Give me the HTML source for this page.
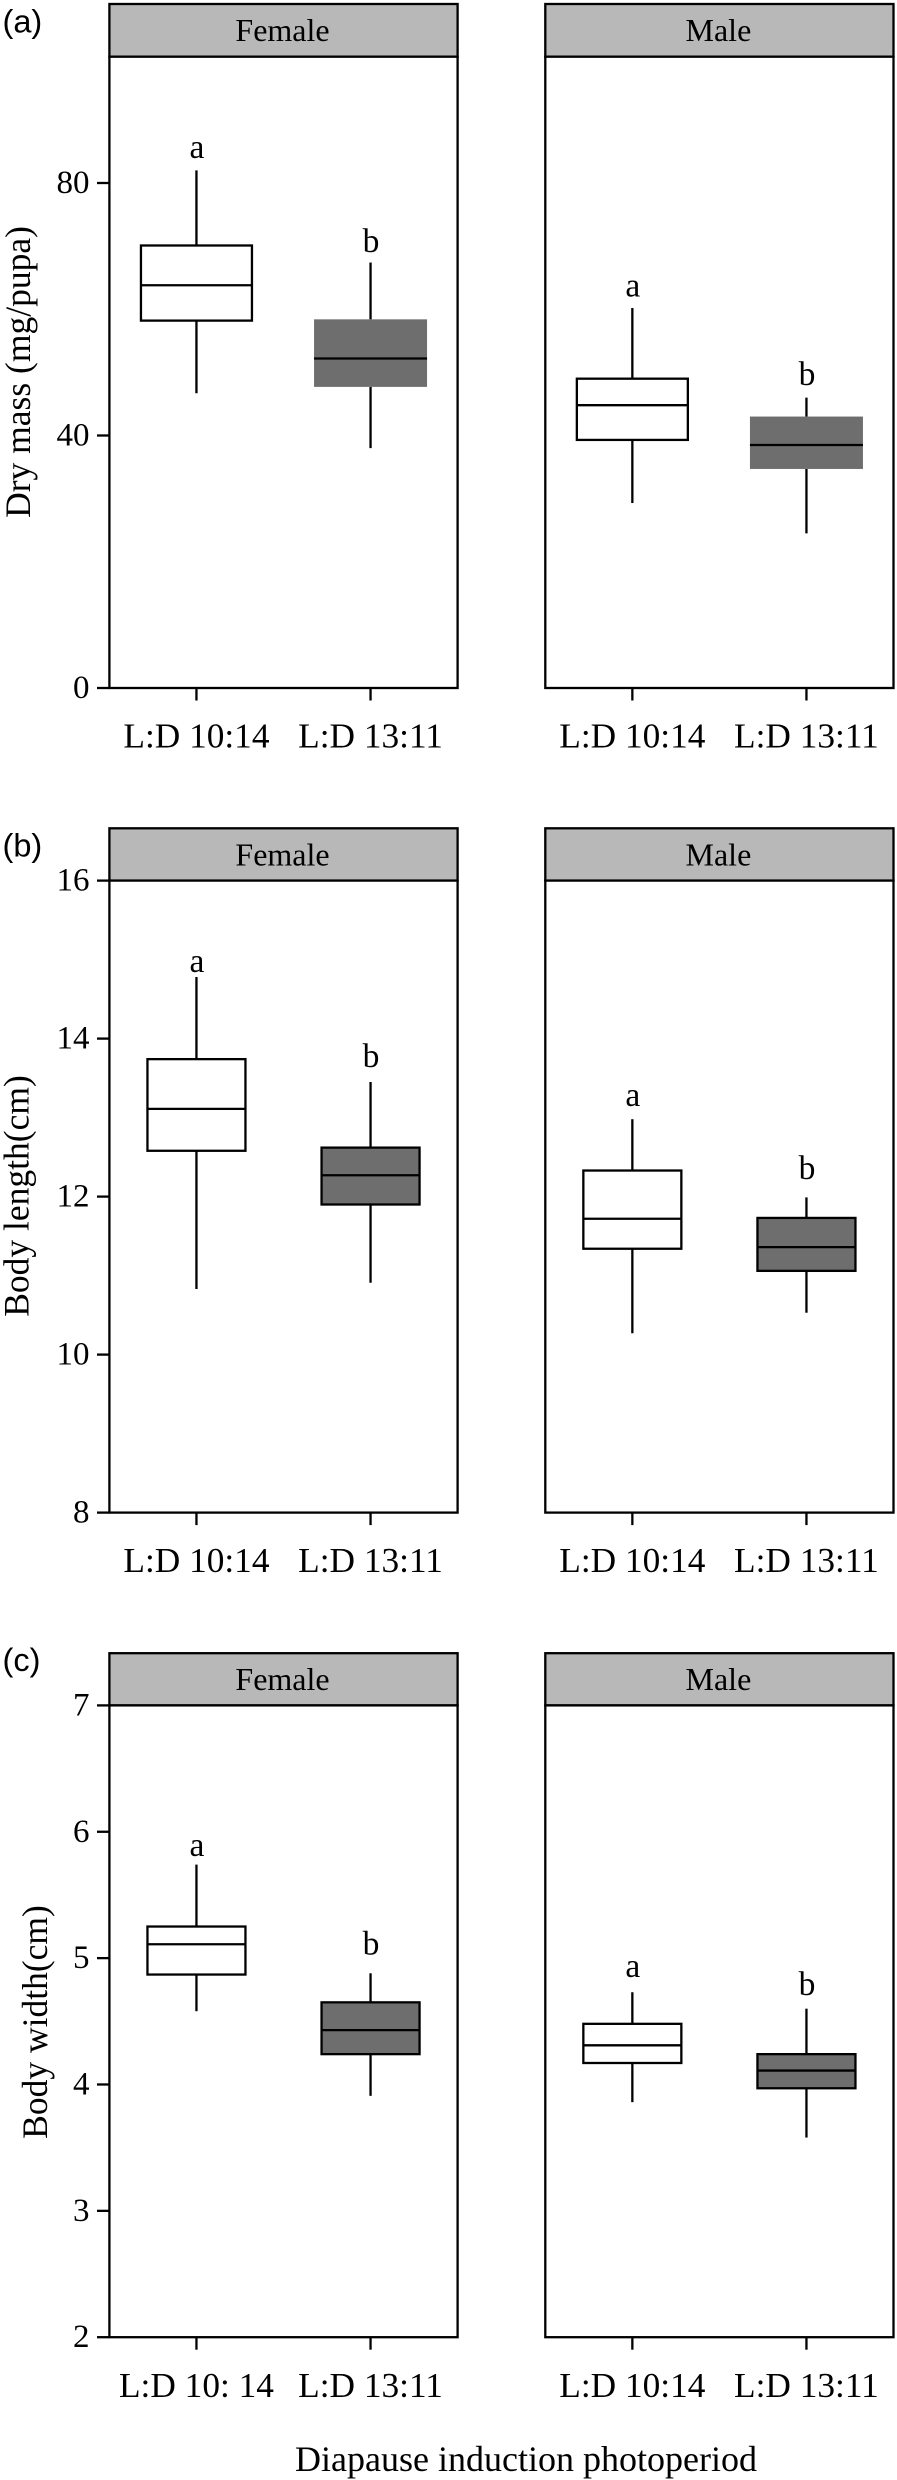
<!DOCTYPE html>
<html lang="en">
<head>
<meta charset="utf-8">
<title>Pupal dry mass, body length and body width by diapause induction photoperiod</title>
<style>
  html, body { margin: 0; padding: 0; background: #ffffff; }
  body { width: 897px; height: 2480px; overflow: hidden; }
  svg { display: block; }
  text { font-family: "Liberation Serif", "Times New Roman", serif; fill: #000000; }
  .sans { font-family: "Liberation Sans", Arial, sans-serif; font-size: 32.5px; }
  .strip { font-size: 32px; text-anchor: middle; }
  .ytitle { font-size: 35.5px; text-anchor: middle; }
  .xtitle { font-size: 36px; text-anchor: middle; }
  .ytick { font-size: 33px; text-anchor: end; }
  .xtick { font-size: 35.3px; text-anchor: middle; }
  .sig { font-size: 33.5px; text-anchor: middle; }
</style>
</head>
<body>
<svg id="figure" xmlns="http://www.w3.org/2000/svg" width="897" height="2480" viewBox="0 0 897 2480">
  <rect x="0" y="0" width="897" height="2480" fill="#ffffff"/>

  <text class="sans" x="2.5" y="32.5">(a)</text>
  <text class="sans" x="2.5" y="856.5">(b)</text>
  <text class="sans" x="2.5" y="1671">(c)</text>

  <text class="ytitle" transform="translate(30 372) rotate(-90)">Dry mass (mg/pupa)</text>
  <text class="ytitle" transform="translate(28.5 1196) rotate(-90)">Body length(cm)</text>
  <text class="ytitle" transform="translate(47 2022) rotate(-90)">Body width(cm)</text>

  <text class="xtitle" x="526" y="2471">Diapause induction photoperiod</text>

  <g id="chart-a"></g>
  <g id="chart-b"></g>
  <g id="chart-c"></g>
</svg>

<script>
// ---- Data: each box is [whisker low, Q1, median, Q3, whisker high] ----
const facetNames = ["Female", "Male"];
const fillKinds = ["white", "dark"];

const massTicks = [0, 40, 80];
const massTickLabels = ["0", "40", "80"];
const massFemale = [[46.7, 58.2, 63.8, 70.1, 82.0], [38.0, 47.7, 52.2, 58.4, 67.4]];
const massMale = [[29.3, 39.3, 44.8, 49.0, 60.2], [24.5, 34.7, 38.5, 43.0, 46.0]];
const massLetterY = [[84.0, 69.1], [62.0, 48.0]];
const massXFemale = ["L:D 10:14", "L:D 13:11"];
const massXMale = ["L:D 10:14", "L:D 13:11"];

const lengthTicks = [8, 10, 12, 14, 16];
const lengthTickLabels = ["8", "10", "12", "14", "16"];
const lengthFemale = [[10.83, 12.58, 13.11, 13.74, 14.78], [10.91, 11.90, 12.27, 12.62, 13.45]];
const lengthMale = [[10.27, 11.34, 11.72, 12.33, 12.98], [10.53, 11.06, 11.36, 11.73, 11.99]];
const lengthLetterY = [[14.84, 13.64], [13.15, 12.22]];
const lengthXFemale = ["L:D 10:14", "L:D 13:11"];
const lengthXMale = ["L:D 10:14", "L:D 13:11"];

const widthTicks = [2, 3, 4, 5, 6, 7];
const widthTickLabels = ["2", "3", "4", "5", "6", "7"];
const widthFemale = [[4.58, 4.87, 5.11, 5.25, 5.74], [3.91, 4.24, 4.43, 4.65, 4.88]];
const widthMale = [[3.86, 4.17, 4.31, 4.48, 4.73], [3.58, 3.97, 4.11, 4.24, 4.60]];
const widthLetterY = [[5.81, 5.03], [4.85, 4.71]];
const widthXFemale = ["L:D 10: 14", "L:D 13:11"];
const widthXMale = ["L:D 10:14", "L:D 13:11"];

const letters = ["a", "b"];

// ---- Layout (not data) ----
const SVG_NS = "http://www.w3.org/2000/svg";
const STROKE = 2.3;
const facetX = [[109.4, 457.6], [545.3, 893.5]];
const rows = [
  { id: "chart-a", stripTop: 4, top: 56.7, y0: 688, y1: 183, v0: 0, v1: 80, whiteW: 111, darkW: 113, darkStroke: false, xBase: 747.5,
    ticks: massTicks, tickLabels: massTickLabels, series: [massFemale, massMale], letterY: massLetterY, xLabels: [massXFemale, massXMale] },
  { id: "chart-b", stripTop: 828.3, top: 880.6, y0: 1512.6, y1: 880.6, v0: 8, v1: 16, whiteW: 98, darkW: 98, darkStroke: true, xBase: 1572,
    ticks: lengthTicks, tickLabels: lengthTickLabels, series: [lengthFemale, lengthMale], letterY: lengthLetterY, xLabels: [lengthXFemale, lengthXMale] },
  { id: "chart-c", stripTop: 1653.2, top: 1705.4, y0: 2337.2, y1: 1705.4, v0: 2, v1: 7, whiteW: 98, darkW: 98, darkStroke: true, xBase: 2397,
    ticks: widthTicks, tickLabels: widthTickLabels, series: [widthFemale, widthMale], letterY: widthLetterY, xLabels: [widthXFemale, widthXMale] }
];

function make(parent, tag, attrs) {
  const node = document.createElementNS(SVG_NS, tag);
  for (const key in attrs) node.setAttribute(key, attrs[key]);
  parent.appendChild(node);
  return node;
}

function makeLine(parent, x1, y1, x2, y2) {
  return make(parent, "line", { x1: x1, y1: y1, x2: x2, y2: y2, stroke: "#000000", "stroke-width": STROKE });
}

function categoryX(facet, index) {
  const left = facetX[facet][0];
  const width = facetX[facet][1] - left;
  return left + width * (0.25 + 0.5 * index);
}

rows.forEach(function (row) {
  const host = document.getElementById(row.id);
  const yScale = function (v) {
    return row.y0 + (v - row.v0) * (row.y1 - row.y0) / (row.v1 - row.v0);
  };

  // y axis ticks and labels (on the left facet only)
  row.ticks.forEach(function (tick, i) {
    const yTick = makeLine(host, 97, yScale(tick), facetX[0][0], yScale(tick));
    
    
    const yLabel = make(host, "text", { class: "ytick", x: 89.5, y: yScale(tick) + 10 });
    yLabel.textContent = row.tickLabels[i];
    
    
  });

  facetNames.forEach(function (facetName, f) {
    const left = facetX[f][0];
    const right = facetX[f][1];
    const g = make(host, "g", {});
    
    

    const strip = make(g, "rect", { x: left, y: row.stripTop, width: right - left, height: row.top - row.stripTop, fill: "#b8b8b8", stroke: "#000000", "stroke-width": STROKE });
    
    

    const stripText = make(g, "text", { class: "strip", x: (left + right) / 2 - 1, y: row.stripTop + 37 });
    stripText.textContent = facetName;
    
    

    const frame = make(g, "rect", { x: left, y: row.top, width: right - left, height: row.y0 - row.top, fill: "#ffffff", stroke: "#000000", "stroke-width": STROKE });
    
    

    row.series[f].forEach(function (box, c) {
      const cx = categoryX(f, c);
      const low = box[0], q1 = box[1], med = box[2], q3 = box[3], high = box[4];
      const isDark = fillKinds[c] === "dark";
      const w = isDark ? row.darkW : row.whiteW;

      const xTick = makeLine(g, cx, row.y0, cx, row.y0 + 12.5);
      
      

      const xLabel = make(g, "text", { class: "xtick", x: cx, y: row.xBase });
      xLabel.textContent = row.xLabels[f][c];
      
      

      const upper = makeLine(g, cx, yScale(q3), cx, yScale(high));
      
      

      const lower = makeLine(g, cx, yScale(q1), cx, yScale(low));
      
      

      const body = make(g, "rect", {
        x: cx - w / 2, y: yScale(q3), width: w, height: yScale(q1) - yScale(q3),
        fill: isDark ? "#6e6e6e" : "#ffffff",
        stroke: (isDark && !row.darkStroke) ? "none" : "#000000",
        "stroke-width": STROKE
      });
      
      

      const median = makeLine(g, cx - w / 2, yScale(med), cx + w / 2, yScale(med));
      
      

      const letter = make(g, "text", { class: "sig", x: cx + 0.5, y: yScale(row.letterY[f][c]) });
      letter.textContent = letters[c];
      
      
    });
  });
});
</script>
</body>
</html>
